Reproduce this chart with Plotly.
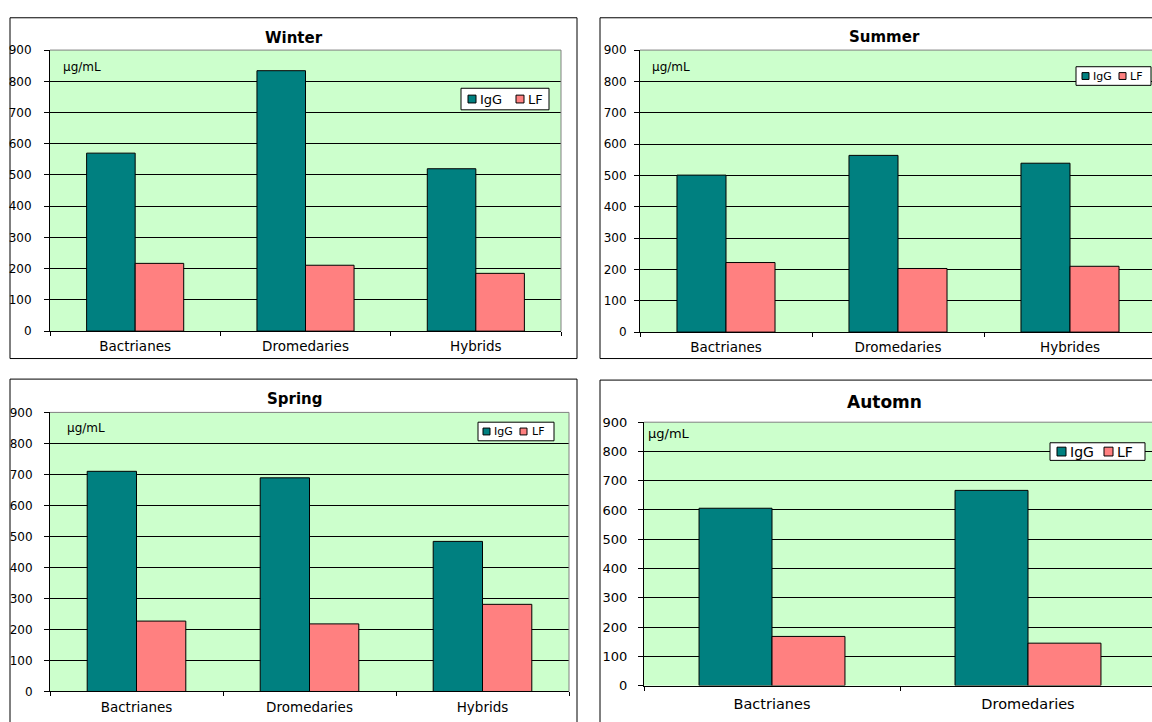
import plotly.graph_objects as go

# ---------------- data ----------------
series_names = ["IgG", "LF"]

winter_categories = ["Bactrianes", "Dromedaries", "Hybrids"]
winter_igg = [570, 834, 520]
winter_lf = [217, 211, 185]

summer_categories = ["Bactrianes", "Dromedaries", "Hybrides"]
summer_igg = [501, 564, 539]
summer_lf = [222, 203, 210]

spring_categories = ["Bactrianes", "Dromedaries", "Hybrids"]
spring_igg = [710, 689, 484]
spring_lf = [227, 218, 281]

automn_categories = ["Bactrianes", "Dromedaries"]
automn_igg = [606, 667]
automn_lf = [168, 145]

y_tick_values = [0, 100, 200, 300, 400, 500, 600, 700, 800, 900]
unit_label = "µg/mL"

# ---------------- styling / layout ----------------
W, H = 1152, 722
IGG_COLOR = "#008080"
LF_COLOR = "#FF8080"
PLOT_BG = "#CCFFCC"
FONT = "DejaVu Sans"


def fx(x):
    return x / W


def fy(y):
    return 1 - y / H


panels = [
    dict(title="Winter", cats=winter_categories, igg=winter_igg, lf=winter_lf,
         plot=(50, 561, 44, 331), frame=(10, 577, 11, 359),
         title_pos=(294, 32), title_size=15,
         unit_pos=(61, 61), unit_size=12,
         tick_size=12, cat_size=13.5, ystand=10, xstand=3,
         legend=dict(box=(461, 549, 83, 105), size=13,
                     sw1=(468, 476), t1=478, sw2=(516, 524), t2=526)),
    dict(title="Summer", cats=summer_categories, igg=summer_igg, lf=summer_lf,
         plot=(640, 1156, 44, 332), frame=(600, 1170, 11, 359),
         title_pos=(884, 31), title_size=15,
         unit_pos=(650, 61), unit_size=12,
         tick_size=12, cat_size=13.5, ystand=5, xstand=3,
         legend=dict(box=(1076, 1151, 61, 80), size=11,
                     sw1=(1082, 1089), t1=1091, sw2=(1119, 1126), t2=1128)),
    dict(title="Spring", cats=spring_categories, igg=spring_igg, lf=spring_lf,
         plot=(50, 569, 414, 699), frame=(10, 577, 380, 740),
         title_pos=(295, 400), title_size=15,
         unit_pos=(65, 430), unit_size=12,
         tick_size=12, cat_size=13.5, ystand=9, xstand=3,
         legend=dict(box=(478, 554, 424, 443), size=11,
                     sw1=(483, 490), t1=492, sw2=(520, 527), t2=530)),
    dict(title="Automn", cats=automn_categories, igg=automn_igg, lf=automn_lf,
         plot=(644, 1156, 424, 693), frame=(600, 1170, 381, 740),
         title_pos=(884, 403), title_size=17,
         unit_pos=(646, 436), unit_size=13,
         tick_size=13, cat_size=14.5, ystand=8, xstand=5,
         legend=dict(box=(1050, 1145, 445, 463), size=14,
                     sw1=(1057, 1066), t1=1068, sw2=(1104, 1113), t2=1115)),
]

fig = go.Figure()
shapes = []
annotations = []
layout_axes = {}

for i, p in enumerate(panels):
    s = "" if i == 0 else str(i + 1)
    l, r, t, b = p["plot"]
    n = len(p["cats"])
    cat_w = (r - l) / n
    vis_r = min(r, W)
    xmax = -0.5 + (vis_r - l) / cat_w

    for name, vals, col in [(series_names[0], p["igg"], IGG_COLOR),
                            (series_names[1], p["lf"], LF_COLOR)]:
        fig.add_trace(go.Bar(
            x=p["cats"], y=vals, name=name, showlegend=False,
            xaxis="x" + s, yaxis="y" + s,
            marker=dict(color=col, line=dict(color="black", width=1)),
            hoverinfo="x+y+name",
        ))

    layout_axes["xaxis" + s] = dict(
        domain=[fx(l), fx(vis_r)], anchor="y" + s, type="category",
        range=[-0.5, xmax], tickson="boundaries", ticks="outside", ticklen=4,
        tickcolor="black", tickwidth=1, showline=True, linecolor="black",
        linewidth=1, showgrid=False, zeroline=False,
        tickfont=dict(family=FONT, size=p["cat_size"], color="black"),
        ticklabelstandoff=p["xstand"], fixedrange=True,
    )
    layout_axes["yaxis" + s] = dict(
        domain=[fy(b), fy(t)], anchor="x" + s, range=[0, 900],
        tickmode="array", tickvals=y_tick_values,
        ticks="outside", ticklen=5, tickcolor="black", tickwidth=1,
        showline=True, linecolor="black", linewidth=1,
        showgrid=True, gridcolor="black", gridwidth=1, zeroline=False,
        tickfont=dict(family=FONT, size=p["tick_size"], color="black"),
        ticklabelstandoff=p["ystand"], fixedrange=True,
    )

    # plot-area border (top / right) in grey
    shapes.append(dict(type="line", xref="paper", yref="paper", layer="above",
                       x0=fx(l), x1=fx(min(r, W + 5)), y0=fy(t), y1=fy(t),
                       line=dict(color="#808080", width=1)))
    if r <= W:
        shapes.append(dict(type="line", xref="paper", yref="paper", layer="above",
                           x0=fx(r), x1=fx(r), y0=fy(t), y1=fy(b),
                           line=dict(color="#808080", width=1)))

    # chart frame
    fl, fr, ft, fb = p["frame"]
    shapes.append(dict(type="rect", xref="paper", yref="paper", layer="above",
                       x0=fx(fl), x1=fx(fr), y0=fy(fb), y1=fy(ft),
                       line=dict(color="black", width=1), fillcolor="rgba(0,0,0,0)"))

    # title
    tx, ty = p["title_pos"]
    annotations.append(dict(xref="paper", yref="paper", x=fx(tx), y=fy(ty),
                            xanchor="center", yanchor="middle", showarrow=False,
                            text="<b>%s</b>" % p["title"],
                            font=dict(family=FONT, size=p["title_size"], color="black")))
    # unit label
    ux, uy = p["unit_pos"]
    annotations.append(dict(xref="paper", yref="paper", x=fx(ux), y=fy(uy),
                            xanchor="left", yanchor="middle", showarrow=False,
                            text=unit_label,
                            font=dict(family=FONT, size=p["unit_size"], color="black")))

    # legend
    lg = p["legend"]
    bl, br, bt, bb = lg["box"]
    shapes.append(dict(type="rect", xref="paper", yref="paper", layer="above",
                       x0=fx(bl), x1=fx(br), y0=fy(bb), y1=fy(bt),
                       line=dict(color="black", width=1), fillcolor="white"))
    cy = (bt + bb) / 2
    half = (lg["sw1"][1] - lg["sw1"][0]) / 2
    for (sx0, sx1), tx0, name, col in [(lg["sw1"], lg["t1"], series_names[0], IGG_COLOR),
                                        (lg["sw2"], lg["t2"], series_names[1], LF_COLOR)]:
        shapes.append(dict(type="rect", xref="paper", yref="paper", layer="above",
                           x0=fx(sx0), x1=fx(sx1), y0=fy(cy + half), y1=fy(cy - half),
                           line=dict(color="black", width=1), fillcolor=col))
        annotations.append(dict(xref="paper", yref="paper", x=fx(tx0), y=fy(cy),
                                xanchor="left", yanchor="middle", showarrow=False,
                                text=name,
                                font=dict(family=FONT, size=lg["size"], color="black")))

fig.update_layout(
    width=W, height=H, autosize=False,
    margin=dict(l=0, r=0, t=0, b=0, pad=0),
    paper_bgcolor="white", plot_bgcolor=PLOT_BG,
    barmode="group", bargap=0.43, bargroupgap=0,
    showlegend=False,
    shapes=shapes, annotations=annotations,
    font=dict(family=FONT, color="black"),
    **layout_axes,
)

fig.write_html("out.html")
